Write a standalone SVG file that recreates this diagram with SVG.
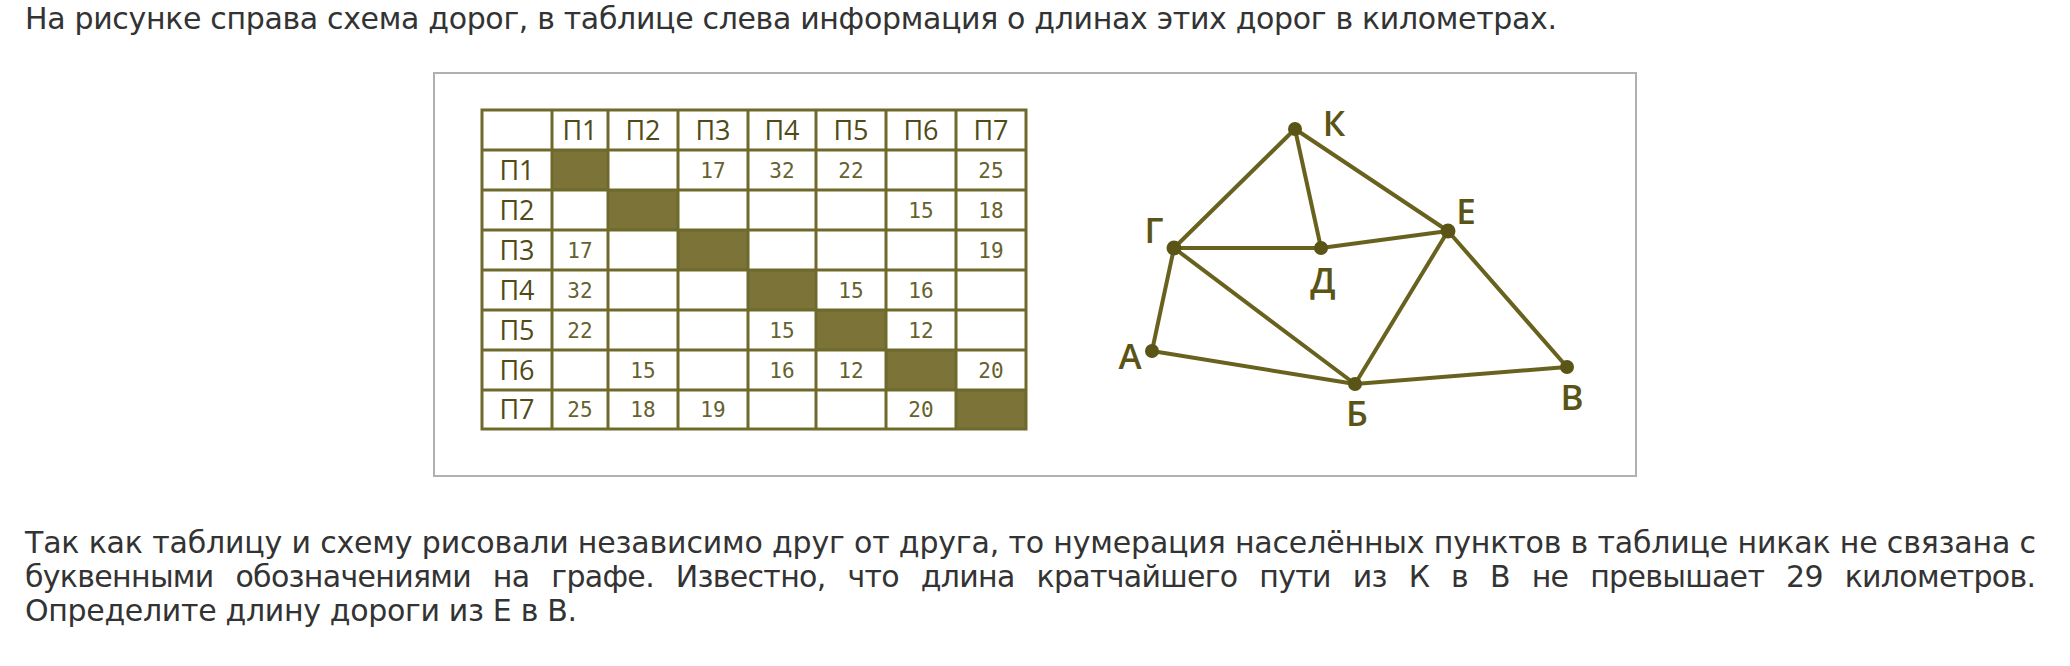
<svg xmlns="http://www.w3.org/2000/svg" width="2070" height="666" viewBox="0 0 2070 666">
<style>
.txt{font-family:"DejaVu Sans",Verdana,sans-serif;font-size:30px;fill:#333333}
.grid{stroke:#6e6a2c;stroke-width:3;fill:none}
.shade{fill:#7b7338}
.hdr{font-family:"Open Sans","Liberation Sans",sans-serif;font-size:27px;fill:#4f4a18;text-anchor:middle}
.num{font-family:"DejaVu Sans Mono","Liberation Mono",monospace;font-size:21px;fill:#66612e;text-anchor:middle}
.edge{stroke:#69621f;stroke-width:4;stroke-linecap:round}
.dot{fill:#5a5416}
.lbl{font-family:"Open Sans","Liberation Sans",sans-serif;font-size:35px;font-weight:600;fill:#5a5416;text-anchor:middle}
</style>
<rect width="2070" height="666" fill="#ffffff"/>
<text class="txt" x="25" y="29" textLength="1532" lengthAdjust="spacing">На рисунке справа схема дорог, в таблице слева информация о длинах этих дорог в километрах.</text>
<rect x="434" y="73" width="1202" height="403" fill="#ffffff" stroke="#b0b0b0" stroke-width="2"/>
<g id="table">
<g id="shaded">
<rect class="shade" x="552" y="150" width="56" height="40"/>
<rect class="shade" x="608" y="190" width="70" height="40"/>
<rect class="shade" x="678" y="230" width="70" height="40"/>
<rect class="shade" x="748" y="270" width="68" height="40"/>
<rect class="shade" x="816" y="310" width="70" height="40"/>
<rect class="shade" x="886" y="350" width="70" height="40"/>
<rect class="shade" x="956" y="390" width="70" height="39"/>
</g>
<g id="gridlines" class="grid">
<rect x="482" y="110" width="544" height="319"/>
<path d="M482 150H1026M482 190H1026M482 230H1026M482 270H1026M482 310H1026M482 350H1026M482 390H1026"/>
<path d="M552 110V429M608 110V429M678 110V429M748 110V429M816 110V429M886 110V429M956 110V429"/>
</g>
<g id="headers">
<text class="hdr" x="580" y="140">П1</text>
<text class="hdr" x="643" y="140">П2</text>
<text class="hdr" x="713" y="140">П3</text>
<text class="hdr" x="782" y="140">П4</text>
<text class="hdr" x="851" y="140">П5</text>
<text class="hdr" x="921" y="140">П6</text>
<text class="hdr" x="991" y="140">П7</text>
<text class="hdr" x="517" y="180">П1</text>
<text class="hdr" x="517" y="220">П2</text>
<text class="hdr" x="517" y="260">П3</text>
<text class="hdr" x="517" y="300">П4</text>
<text class="hdr" x="517" y="340">П5</text>
<text class="hdr" x="517" y="380">П6</text>
<text class="hdr" x="517" y="419">П7</text>
</g>
<g id="values">
<text class="num" x="713" y="178">17</text>
<text class="num" x="782" y="178">32</text>
<text class="num" x="851" y="178">22</text>
<text class="num" x="991" y="178">25</text>
<text class="num" x="921" y="218">15</text>
<text class="num" x="991" y="218">18</text>
<text class="num" x="580" y="258">17</text>
<text class="num" x="991" y="258">19</text>
<text class="num" x="580" y="298">32</text>
<text class="num" x="851" y="298">15</text>
<text class="num" x="921" y="298">16</text>
<text class="num" x="580" y="338">22</text>
<text class="num" x="782" y="338">15</text>
<text class="num" x="921" y="338">12</text>
<text class="num" x="643" y="378">15</text>
<text class="num" x="782" y="378">16</text>
<text class="num" x="851" y="378">12</text>
<text class="num" x="991" y="378">20</text>
<text class="num" x="580" y="417">25</text>
<text class="num" x="643" y="417">18</text>
<text class="num" x="713" y="417">19</text>
<text class="num" x="921" y="417">20</text>
</g>
</g>
<g id="connectors">
<line class="edge" x1="1295" y1="129" x2="1174" y2="248"/>
<line class="edge" x1="1295" y1="129" x2="1321" y2="248"/>
<line class="edge" x1="1295" y1="129" x2="1448" y2="231"/>
<line class="edge" x1="1174" y1="248" x2="1321" y2="248"/>
<line class="edge" x1="1321" y1="248" x2="1448" y2="231"/>
<line class="edge" x1="1174" y1="248" x2="1152" y2="351"/>
<line class="edge" x1="1174" y1="248" x2="1355" y2="384"/>
<line class="edge" x1="1152" y1="351" x2="1355" y2="384"/>
<line class="edge" x1="1355" y1="384" x2="1448" y2="231"/>
<line class="edge" x1="1355" y1="384" x2="1567" y2="367"/>
<line class="edge" x1="1448" y1="231" x2="1567" y2="367"/>
</g>
<g id="node-K"><circle class="dot" cx="1295" cy="129" r="7"/><text class="lbl" x="1334" y="136">К</text></g>
<g id="node-G"><circle class="dot" cx="1174" cy="248" r="7.5"/><text class="lbl" x="1154" y="243">Г</text></g>
<g id="node-D"><circle class="dot" cx="1321" cy="248" r="7"/><text class="lbl" x="1323" y="293">Д</text></g>
<g id="node-E"><circle class="dot" cx="1448" cy="231" r="7.5"/><text class="lbl" x="1466" y="224">Е</text></g>
<g id="node-A"><circle class="dot" cx="1152" cy="351" r="7"/><text class="lbl" x="1130" y="369">А</text></g>
<g id="node-B"><circle class="dot" cx="1355" cy="384" r="7"/><text class="lbl" x="1357" y="426">Б</text></g>
<g id="node-V"><circle class="dot" cx="1567" cy="367" r="7"/><text class="lbl" x="1572" y="410">В</text></g>
<text class="txt" x="25" y="553" textLength="2011" lengthAdjust="spacing">Так как таблицу и схему рисовали независимо друг от друга, то нумерация населённых пунктов в таблице никак не связана с</text>
<text class="txt" x="25" y="587" textLength="2011" lengthAdjust="spacing" word-spacing="13">буквенными обозначениями на графе. Известно, что длина кратчайшего пути из К в В не превышает 29 километров.</text>
<text class="txt" x="25" y="621" textLength="552" lengthAdjust="spacing">Определите длину дороги из Е в В.</text>
</svg>
